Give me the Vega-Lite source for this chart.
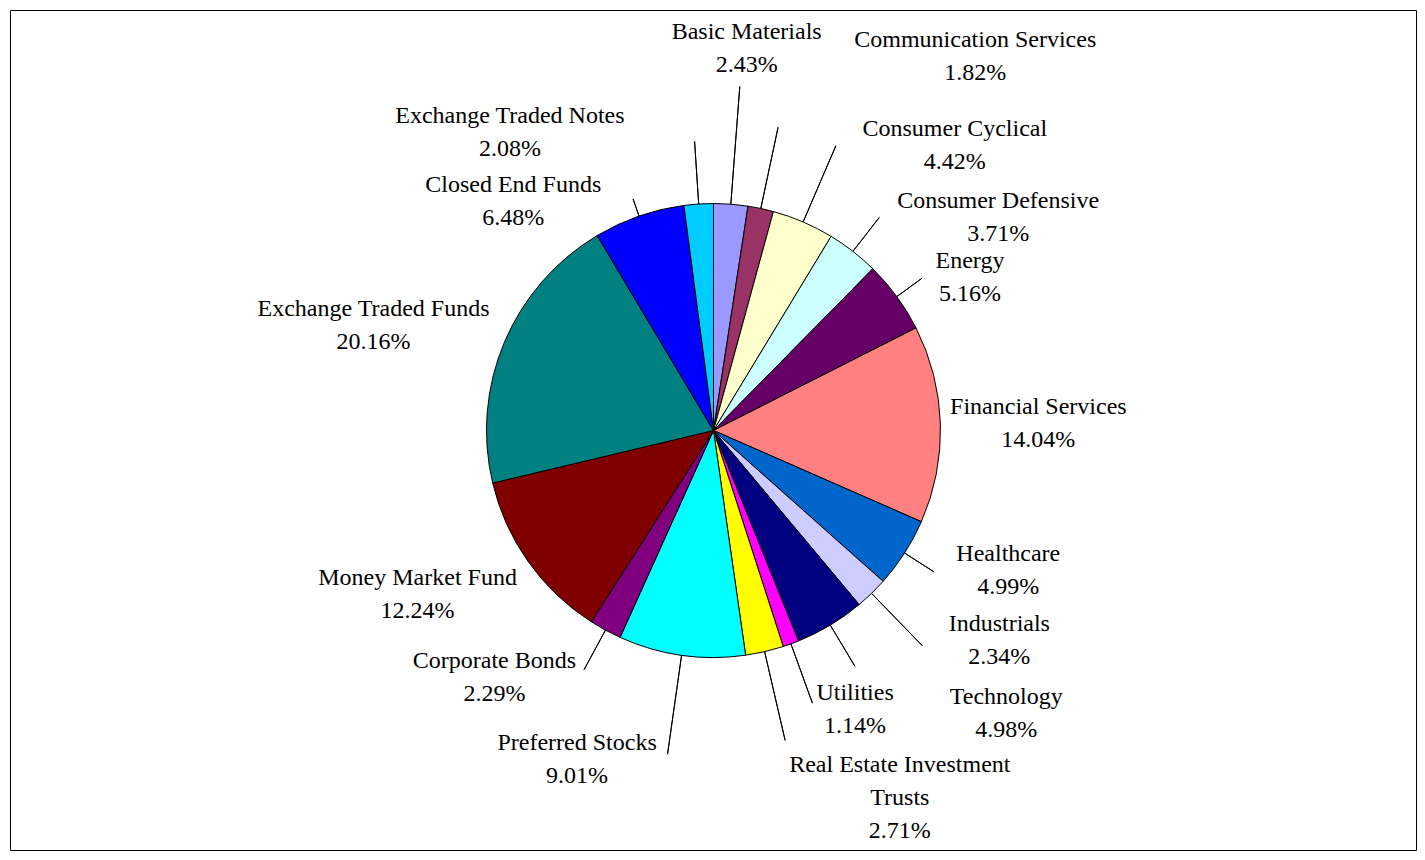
{
  "$schema": "https://vega.github.io/schema/vega-lite/v6.json",
  "width": 1425,
  "height": 860,
  "autosize": {"type": "fit", "contains": "padding"},
  "padding": {"left": 9.5, "top": 9.5, "right": 7.5, "bottom": 8.5},
  "background": "white",
  "config": {"view": {"stroke": null}},
  "data": {
    "values": [
      {"idx": 0, "category": "Basic Materials", "value": 2.43},
      {"idx": 1, "category": "Communication Services", "value": 1.82},
      {"idx": 2, "category": "Consumer Cyclical", "value": 4.42},
      {"idx": 3, "category": "Consumer Defensive", "value": 3.71},
      {"idx": 4, "category": "Energy", "value": 5.16},
      {"idx": 5, "category": "Financial Services", "value": 14.04},
      {"idx": 6, "category": "Healthcare", "value": 4.99},
      {"idx": 7, "category": "Industrials", "value": 2.34},
      {"idx": 8, "category": "Technology", "value": 4.98},
      {"idx": 9, "category": "Utilities", "value": 1.14},
      {"idx": 10, "category": "Real Estate Investment Trusts", "value": 2.71},
      {"idx": 11, "category": "Preferred Stocks", "value": 9.01},
      {"idx": 12, "category": "Corporate Bonds", "value": 2.29},
      {"idx": 13, "category": "Money Market Fund", "value": 12.24},
      {"idx": 14, "category": "Exchange Traded Funds", "value": 20.16},
      {"idx": 15, "category": "Closed End Funds", "value": 6.48},
      {"idx": 16, "category": "Exchange Traded Notes", "value": 2.08}
    ]
  },
  "transform": [
    {"calculate": "(datum.category === 'Real Estate Investment Trusts' ? 'Real Estate Investment\\nTrusts' : datum.category) + '\\n' + format(datum.value, '.2f') + '%'", "as": "label"}
  ],
  "layer": [
    {
      "data": {"values": [{"frame": 1}]},
      "mark": {"type": "rect", "fill": "transparent", "stroke": "black", "strokeWidth": 1},
      "encoding": {}
    },
    {
      "mark": {"type": "arc", "outerRadius": 227, "stroke": "black", "strokeWidth": 1},
      "encoding": {
        "theta": {"field": "value", "type": "quantitative", "stack": true},
        "order": {"field": "idx", "type": "quantitative"},
        "color": {
          "field": "category",
          "type": "nominal",
          "legend": null,
          "scale": {
            "domain": ["Basic Materials", "Communication Services", "Consumer Cyclical", "Consumer Defensive", "Energy", "Financial Services", "Healthcare", "Industrials", "Technology", "Utilities", "Real Estate Investment Trusts", "Preferred Stocks", "Corporate Bonds", "Money Market Fund", "Exchange Traded Funds", "Closed End Funds", "Exchange Traded Notes"],
            "range": ["#9999FF", "#993366", "#FFFFCC", "#CCFFFF", "#660066", "#FF8080", "#0066CC", "#CCCCFF", "#000080", "#FF00FF", "#FFFF00", "#00FFFF", "#800080", "#800000", "#008080", "#0000FF", "#00CCFF"]
          }
        }
      }
    },
    {
      "mark": {
        "type": "arc",
        "innerRadius": 227,
        "outerRadius": {"expr": "[345, 310, 310, 270, 258, 227, 262, 300, 275, 290, 318, 327, 272, 227, 227, 245, 290][datum.idx]"},
        "padAngle": 3,
        "fill": "transparent",
        "stroke": "black",
        "strokeWidth": 1
      },
      "encoding": {
        "theta": {"field": "value", "type": "quantitative", "stack": true},
        "order": {"field": "idx", "type": "quantitative"}
      }
    },
    {
      "mark": {
        "type": "text",
        "radius": 330,
        "dx": {"expr": "[8, 193, 111, 82, -10, -5, 17, 56, 123, 29, 112, -90, -62, -27, -36, -92, -182][datum.idx]"},
        "dy": {"expr": "[-69, -67.5, 1.5, 30.5, 25.5, -14.5, -54.5, -43.5, -16.5, -47.5, 13, -14.5, -59.5, -43.5, 6.5, 66.5, 14.5][datum.idx]"},
        "font": "Liberation Serif",
        "fontSize": 24,
        "lineHeight": 33,
        "lineBreak": "\n",
        "align": "center",
        "baseline": "middle",
        "color": "black"
      },
      "encoding": {
        "theta": {"field": "value", "type": "quantitative", "stack": true},
        "order": {"field": "idx", "type": "quantitative"},
        "text": {"field": "label", "type": "nominal"}
      }
    }
  ]
}
